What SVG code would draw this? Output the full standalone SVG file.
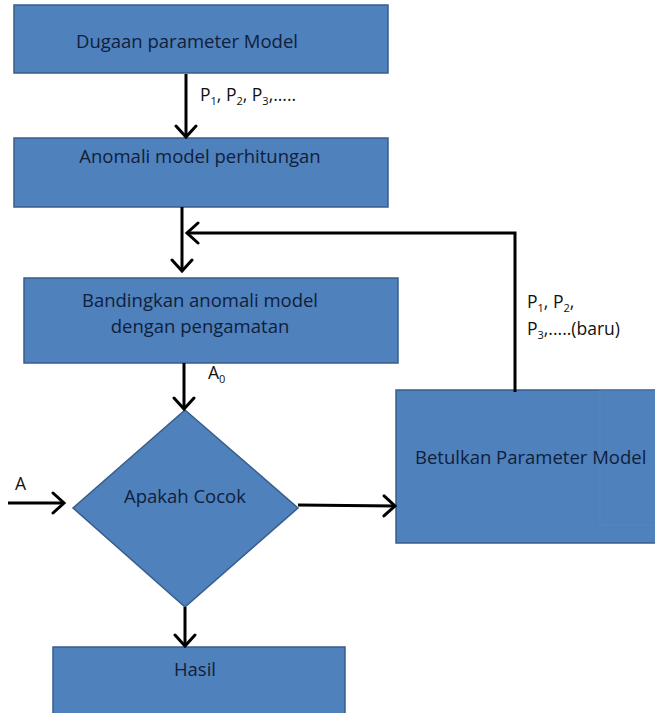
<svg xmlns="http://www.w3.org/2000/svg" width="655" height="713" viewBox="0 0 655 713">
<style>
.box{fill:#4f81bd;stroke:#385d8a;stroke-width:1.5}
.t{font-family:"Open Sans","Noto Sans",sans-serif;font-size:18.5px;fill:#10203a}
.l{font-family:"Open Sans","Noto Sans",sans-serif;font-size:17.5px;fill:#111}
.s{font-size:11px}
.c{fill:none;stroke:#000;stroke-width:3}
</style>
<defs>
<marker id="ah" viewBox="0 0 24 24" refX="20" refY="12" markerWidth="24" markerHeight="24" markerUnits="userSpaceOnUse" orient="auto">
<path d="M9,2 L20,12 L9,22" fill="none" stroke="#000" stroke-width="3" stroke-linecap="round" stroke-linejoin="miter"/>
</marker>
</defs>
<rect width="655" height="713" fill="#fff"/>
<g id="n1"><rect class="box" x="14" y="5" width="374" height="68"/><text class="t" x="187" y="48" text-anchor="middle">Dugaan parameter Model</text></g>
<g id="n2"><rect class="box" x="14" y="138" width="374" height="69"/><text class="t" x="200" y="163" text-anchor="middle">Anomali model perhitungan</text></g>
<g id="n3"><rect class="box" x="24" y="278" width="374" height="85"/><text class="t" x="200" y="307" text-anchor="middle">Bandingkan anomali model</text><text class="t" x="200" y="333" text-anchor="middle">dengan pengamatan</text></g>
<g id="n4"><polygon class="box" points="185,410 298,508 185,607 73,508"/><text class="t" x="185" y="503" text-anchor="middle">Apakah Cocok</text></g>
<g id="n5"><rect class="box" x="396" y="390" width="265" height="153"/><rect x="600" y="390" width="60" height="135" fill="none" stroke="#5a88c0" stroke-width="0.8"/><text class="t" x="415" y="464">Betulkan Parameter Model</text></g>
<g id="n6"><rect class="box" x="53" y="647" width="292" height="70"/><text class="t" x="195" y="676" text-anchor="middle">Hasil</text></g>
<g id="connectors">
<line class="c" x1="186" y1="74" x2="186" y2="137" marker-end="url(#ah)"/>
<line class="c" x1="182" y1="207" x2="182" y2="271" marker-end="url(#ah)"/>
<polyline class="c" points="515,392 515,233 187,233" marker-end="url(#ah)"/>
<line class="c" x1="184" y1="363" x2="184" y2="409" marker-end="url(#ah)"/>
<line class="c" x1="8" y1="503" x2="64" y2="503" marker-end="url(#ah)"/>
<line class="c" x1="298" y1="505" x2="395" y2="506" marker-end="url(#ah)"/>
<line class="c" x1="185" y1="607" x2="185" y2="646" marker-end="url(#ah)"/>
</g>
<g id="labels">
<text class="l" x="200" y="101">P<tspan class="s" dy="4">1</tspan><tspan dy="-4">, P</tspan><tspan class="s" dy="4">2</tspan><tspan dy="-4">, P</tspan><tspan class="s" dy="4">3</tspan><tspan dy="-4">,.....</tspan></text>
<text class="l" x="208" y="379">A<tspan class="s" dy="4">0</tspan></text>
<text class="l" x="15" y="490">A</text>
<text class="l" x="527" y="308">P<tspan class="s" dy="4">1</tspan><tspan dy="-4">, P</tspan><tspan class="s" dy="4">2</tspan><tspan dy="-4">,</tspan></text>
<text class="l" x="527" y="335">P<tspan class="s" dy="4">3</tspan><tspan dy="-4">,.....(baru)</tspan></text>
</g>
</svg>
